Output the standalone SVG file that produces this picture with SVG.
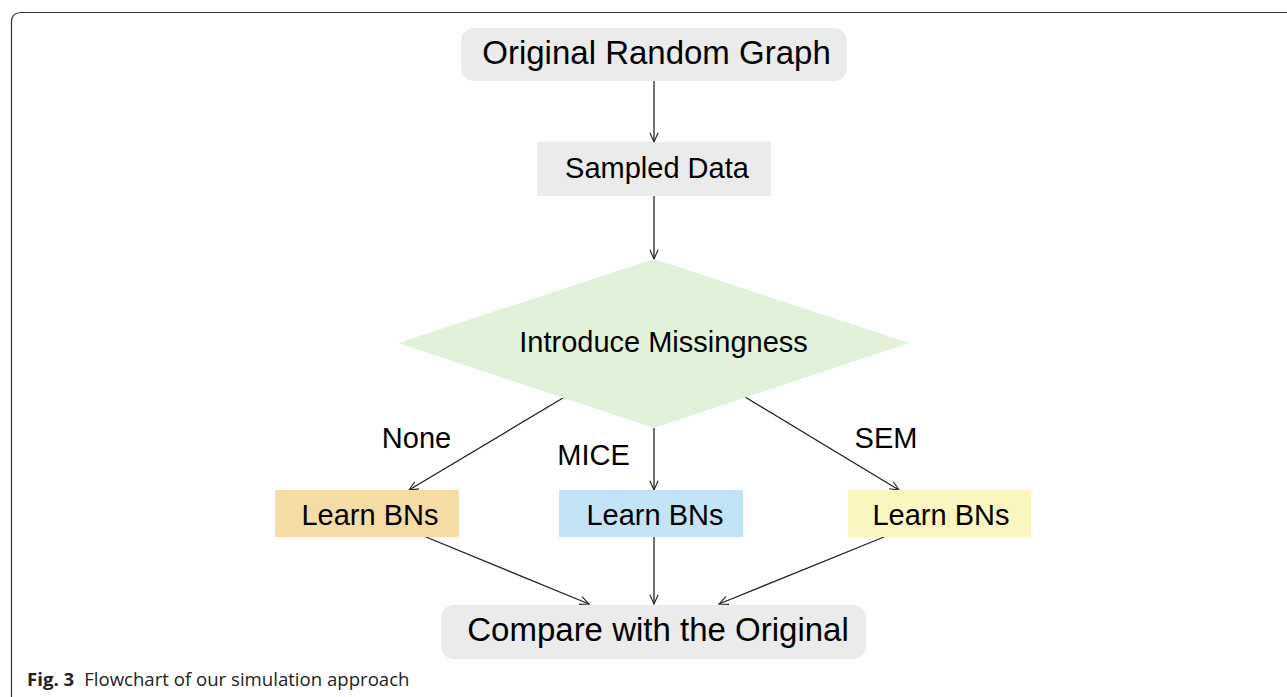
<svg xmlns="http://www.w3.org/2000/svg" width="1287" height="697" viewBox="0 0 1287 697">
  <defs>
    <marker id="arrow" viewBox="0 0 12 12" refX="11" refY="6" markerWidth="11" markerHeight="11" markerUnits="userSpaceOnUse" orient="auto">
      <path d="M1,1.5 L11,6 L1,10.5" fill="none" stroke="#222" stroke-width="1.2"/>
    </marker>
  </defs>
  <style>
    .lbl { font-family: "Liberation Sans", Arial, sans-serif; fill: #000; text-anchor: middle; }
    .big { font-size: 33px; }
    .mid { font-size: 29px; }
    .edge { stroke: #222; stroke-width: 1.3; fill: none; marker-end: url(#arrow); }
    .grey { fill: #ebebeb; }
    .cap { font-family: "Open Sans", "Noto Sans", sans-serif; font-size: 18.6px; fill: #222; }
  </style>
  <rect width="1287" height="697" fill="#fff"/>
  <!-- outer frame -->
  <path d="M11.5,700 L11.5,22 Q11.5,12.5 21,12.5 L1300,12.5" fill="none" stroke="#333" stroke-width="1.2"/>

  <g id="connectors">
    <line class="edge" x1="654" y1="81" x2="654" y2="142"/>
    <line class="edge" x1="654" y1="196" x2="654" y2="259"/>
    <line class="edge" x1="563" y1="398" x2="409" y2="490"/>
    <line class="edge" x1="654" y1="428" x2="654" y2="490"/>
    <line class="edge" x1="745" y1="397" x2="899" y2="490"/>
    <line class="edge" x1="426" y1="537" x2="589" y2="604"/>
    <line class="edge" x1="654" y1="537" x2="654" y2="604"/>
    <line class="edge" x1="884" y1="537" x2="719" y2="604"/>
    <text class="lbl mid" x="416.5" y="448">None</text>
    <text class="lbl mid" x="593.5" y="465">MICE</text>
    <text class="lbl mid" x="886" y="448">SEM</text>
  </g>

  <g id="original-graph">
    <rect class="grey" x="461" y="28" width="386" height="53" rx="13"/>
    <text class="lbl big" x="656.5" y="64">Original Random Graph</text>
  </g>

  <g id="sampled-data">
    <rect class="grey" x="537" y="142" width="234" height="54"/>
    <text class="lbl mid" x="657" y="178">Sampled Data</text>
  </g>

  <g id="introduce-missingness">
    <polygon points="654,259 909,343 654,428 398,343" fill="#e2f2da"/>
    <text class="lbl mid" x="663.5" y="352">Introduce Missingness</text>
  </g>

  <g id="learn-none">
    <rect x="275" y="490" width="184" height="47" fill="#f5dca5"/>
    <text class="lbl mid" x="370" y="525">Learn BNs</text>
  </g>

  <g id="learn-mice">
    <rect x="559" y="490" width="184" height="47" fill="#c3e4f6"/>
    <text class="lbl mid" x="655" y="525">Learn BNs</text>
  </g>

  <g id="learn-sem">
    <rect x="848" y="490" width="183" height="47" fill="#fbf5c0"/>
    <text class="lbl mid" x="941" y="525">Learn BNs</text>
  </g>

  <g id="compare">
    <rect class="grey" x="441" y="605" width="425" height="54" rx="13"/>
    <text class="lbl big" x="658" y="641">Compare with the Original</text>
  </g>

  <g id="caption">
    <text class="cap" x="27" y="686"><tspan font-weight="bold">Fig. 3</tspan><tspan dx="10">Flowchart of our simulation approach</tspan></text>
  </g>
</svg>
